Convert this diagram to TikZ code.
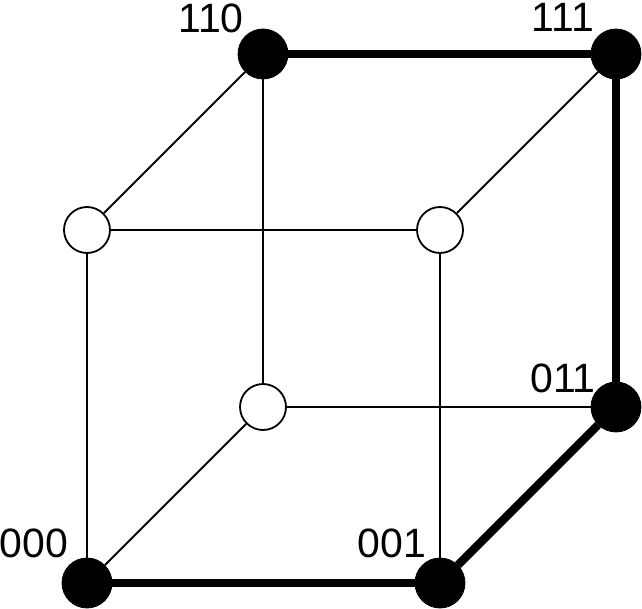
\documentclass[tikz,border=0pt]{standalone}
\usepackage{fontspec}
\setmainfont{Liberation Sans}
\usetikzlibrary{positioning}

\begin{document}
\begin{tikzpicture}[
    x=0.5pt, y=-0.5pt,
    full/.style={circle, draw, fill=black, minimum size=25pt, inner sep=0pt},
    empty/.style={circle, draw, line width=0.9pt, fill=white, minimum size=23pt, inner sep=0pt},
    edge/.style={line width=1pt},
    path/.style={line width=4.2pt},
    lbl/.style={font=\fontsize{20.5}{24}\selectfont, inner sep=0pt}
]
    \useasboundingbox (0,0) rectangle (642,609);

    % Front face
    \node[full] (v000) at (87,583) {};
    \node[full] (v001) at (440,583) {};
    \node[empty] (v100) at (87,230) {};
    \node[empty] (v101) at (440,230) {};

    % Back face
    \node[empty] (v010) at (263,407) {};
    \node[full] (v011) at (616,407) {};
    \node[full] (v110) at (263,54) {};
    \node[full] (v111) at (616,54) {};

    % Thin edges
    \draw[edge] (v000) -- (v100);
    \draw[edge] (v000) -- (v010);
    \draw[edge] (v100) -- (v101);
    \draw[edge] (v100) -- (v110);
    \draw[edge] (v101) -- (v001);
    \draw[edge] (v101) -- (v111);
    \draw[edge] (v010) -- (v110);
    \draw[edge] (v010) -- (v011);

    % Thick path
    \draw[path] (v000) -- (v001);
    \draw[path] (v001) -- (v011);
    \draw[path] (v011) -- (v111);
    \draw[path] (v111) -- (v110);

    % Labels
    \node[lbl] (l000) at (34,543) {000};
    \node[lbl] (l001) at (392,543) {001};
    \node[lbl] (l011) at (563,378) {011};
    \node[lbl] (l111) at (563,17) {111};
    \node[lbl] (l110) at (211,18) {110};
\end{tikzpicture}
\end{document}
